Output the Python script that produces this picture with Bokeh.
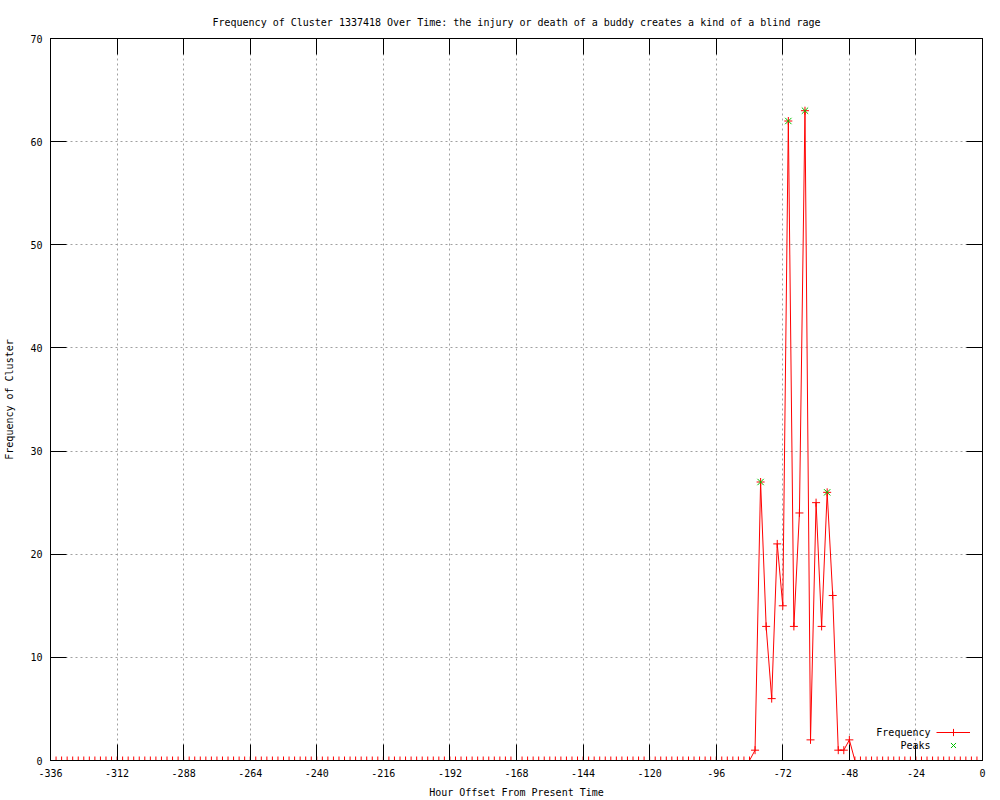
from bokeh.plotting import figure
from bokeh.models import (LinearAxis, FixedTicker, Legend, LegendItem, Label, Range1d)
from bokeh.core.properties import value
from bokeh.embed import file_html
from bokeh.resources import INLINE

# ---- data (hour offset, frequency) ----
hours = list(range(-336, 1, 2))
freq = [
    0, 0, 0, 0, 0, 0, 0, 0, 0, 0, 0, 0, 0, 0, 0, 0, 0, 0, 0, 0,   # -336 .. -298
    0, 0, 0, 0, 0, 0, 0, 0, 0, 0, 0, 0, 0, 0, 0, 0, 0, 0, 0, 0,   # -296 .. -258
    0, 0, 0, 0, 0, 0, 0, 0, 0, 0, 0, 0, 0, 0, 0, 0, 0, 0, 0, 0,   # -256 .. -218
    0, 0, 0, 0, 0, 0, 0, 0, 0, 0, 0, 0, 0, 0, 0, 0, 0, 0, 0, 0,   # -216 .. -178
    0, 0, 0, 0, 0, 0, 0, 0, 0, 0, 0, 0, 0, 0, 0, 0, 0, 0, 0, 0,   # -176 .. -138
    0, 0, 0, 0, 0, 0, 0, 0, 0, 0, 0, 0, 0, 0, 0, 0, 0, 0, 0, 0,   # -136 .. -98
    0, 0, 0, 0, 0, 0, 0,                                          # -96 .. -84
    1, 27, 13, 6, 21, 15, 62, 13, 24, 63,                         # -82 .. -64
    2, 25, 13, 26, 16, 1, 1, 2,                                   # -62 .. -48
    0, 0, 0, 0, 0, 0, 0, 0, 0, 0, 0, 0,                           # -46 .. -24
    0, 0, 0, 0, 0, 0, 0, 0, 0, 0, 0, 0,                           # -22 .. 0
]
peak_hours = [-80, -70, -64, -56]
peak_values = [27, 62, 63, 26]

x_ticks = [-336, -312, -288, -264, -240, -216, -192, -168, -144, -120, -96, -72, -48, -24, 0]
y_ticks = [0, 10, 20, 30, 40, 50, 60, 70]

title_text = "Frequency of Cluster 1337418 Over Time: the injury or death of a buddy creates a kind of a blind rage"
x_label = "Hour Offset From Present Time"
y_label = "Frequency of Cluster"
series_names = ["Frequency", "Peaks"]

FONT = "DejaVu Sans Mono"
RED = "#ff0000"
GREEN = "#00c000"

p = figure(width=1000, height=800, output_backend="svg", toolbar_location=None,
           x_range=Range1d(-336, 0), y_range=Range1d(0, 70),
           min_border_left=50, min_border_right=18, min_border_top=38, min_border_bottom=40,
           title=title_text)
p.background_fill_color = "white"
p.border_fill_color = "white"
p.outline_line_color = "black"
p.outline_line_width = 1

p.title.text_font = FONT
p.title.text_font_size = "10px"
p.title.text_font_style = "normal"
p.title.text_color = "black"
p.title.align = "center"
p.title.standoff = 21

def style_axis(ax):
    ax.major_tick_in = 16
    ax.major_tick_out = 0
    ax.minor_tick_in = 0
    ax.minor_tick_out = 0
    ax.axis_line_color = "black"
    ax.major_tick_line_color = "black"
    ax.major_label_text_font = FONT
    ax.major_label_text_font_size = "10px"
    ax.major_label_text_color = "black"
    ax.axis_label_text_font = FONT
    ax.axis_label_text_font_size = "10px"
    ax.axis_label_text_font_style = "normal"
    ax.axis_label_text_color = "black"

xt = FixedTicker(ticks=x_ticks)
yt = FixedTicker(ticks=y_ticks)

p.xaxis.ticker = xt
p.yaxis.ticker = yt
for ax in p.xaxis:
    style_axis(ax)
    ax.major_label_overrides = {t: str(t) for t in x_ticks}
    ax.major_label_standoff = 8
    ax.axis_label = x_label
    ax.axis_label_standoff = 7
for ax in p.yaxis:
    style_axis(ax)
    ax.major_label_overrides = {t: str(t) for t in y_ticks}
    ax.major_label_standoff = 8
    ax.axis_label = y_label
    ax.axis_label_standoff = 12

# mirrored tick marks on top and right (no labels)
top = LinearAxis(ticker=FixedTicker(ticks=x_ticks))
style_axis(top)
top.major_label_overrides = {t: "" for t in x_ticks}
top.major_label_standoff = 0
p.add_layout(top, "above")
right = LinearAxis(ticker=FixedTicker(ticks=y_ticks))
style_axis(right)
right.major_label_overrides = {t: "" for t in y_ticks}
right.major_label_standoff = 0
p.add_layout(right, "right")

p.xgrid.ticker = xt
p.ygrid.ticker = yt
for g in (p.xgrid[0], p.ygrid[0]):
    g.grid_line_color = "#a0a0a0"
    g.grid_line_dash = "2 3"
    g.grid_line_width = 1

line_r = p.line(hours, freq, line_color=RED, line_width=1)
cross_r = p.scatter(hours, freq, marker="cross", size=8, line_color=RED, line_width=1)
peak_r = p.scatter(peak_hours, peak_values, marker="x", size=9, line_color=GREEN, line_width=1)

# legend: samples only (labels drawn to their left, gnuplot style)
sample_sets = [[line_r, cross_r], [peak_r]]
for i, (name, rends) in enumerate(zip(series_names, sample_sets)):
    leg = Legend(items=[LegendItem(label=value(" "), renderers=rends)],
                 location=(886, 19 - 13 * i), glyph_width=34, glyph_height=18,
                 label_width=0, label_height=18, label_standoff=0,
                 label_text_font_size="1px", padding=0, spacing=0, margin=0,
                 border_line_alpha=0, background_fill_alpha=0)
    p.add_layout(leg, "center")
    p.add_layout(Label(x=880, y=28 - 13 * i, x_units="screen", y_units="screen", text=name,
                       text_align="right", text_baseline="middle",
                       text_font=FONT, text_font_size="10px", text_color="black"))

open("out.html", "w").write(file_html(p, INLINE))
